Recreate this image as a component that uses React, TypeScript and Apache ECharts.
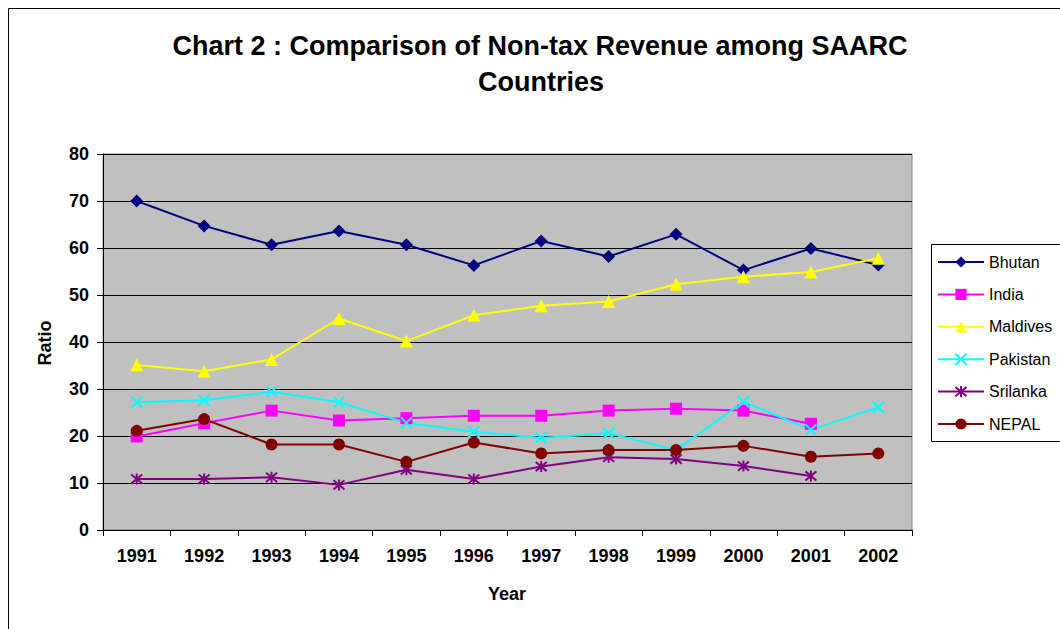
import React, { useEffect, useRef } from "react";
import * as echarts from "echarts";

const years = ["1991", "1992", "1993", "1994", "1995", "1996", "1997", "1998", "1999", "2000", "2001", "2002"];
const bhutan = [70.0, 64.7, 60.7, 63.6, 60.7, 56.3, 61.5, 58.2, 62.9, 55.3, 59.9, 56.4];
const india = [19.9, 22.7, 25.4, 23.3, 23.8, 24.3, 24.3, 25.4, 25.8, 25.4, 22.6, null];
const maldives = [35.1, 33.8, 36.3, 45.0, 40.2, 45.7, 47.7, 48.6, 52.3, 53.9, 54.9, 57.8];
const pakistan = [27.2, 27.6, 29.4, 27.2, 22.8, 20.9, 19.6, 20.6, 17.0, 27.3, 21.3, 26.1];
const srilanka = [10.85, 10.85, 11.2, 9.6, 12.8, 10.85, 13.5, 15.5, 15.1, 13.6, 11.5, null];
const nepal = [21.1, 23.6, 18.2, 18.2, 14.5, 18.6, 16.3, 17.0, 17.0, 17.9, 15.6, 16.3];

const titleLines = ["Chart 2 : Comparison of Non-tax Revenue among SAARC", "Countries"];

const FONT = "'Liberation Sans', Arial, sans-serif";

export default function App() {
  const ref = useRef<HTMLDivElement>(null);
  useEffect(() => {
    if (!ref.current) return;
    const chart = echarts.init(ref.current, undefined, { renderer: "svg" });
    const mk = (
      name: string,
      data: (number | null)[],
      color: string,
      symbol: string,
      size: number,
      stroke?: boolean
    ) => ({
      name,
      type: "line",
      data,
      symbol,
      symbolSize: size,
      showAllSymbol: true,
      lineStyle: { color, width: 2 },
      itemStyle: stroke
        ? { color: "rgba(0,0,0,0)", borderColor: color, borderWidth: 2 }
        : { color, borderColor: color, borderWidth: 0 },
      emphasis: { disabled: true },
    });
    const xPath = "path://M0,0L10,10M10,0L0,10";
    const starPath = "path://M0,0L10,10M10,0L0,10M5,-1L5,11";
    chart.setOption({
      animation: false,
      backgroundColor: "#ffffff",
      graphic: [
        {
          type: "polyline",
          shape: { points: [[1100, 8.5], [8.5, 8.5], [8.5, 700]] },
          style: { fill: "none", stroke: "#000", lineWidth: 1 },
          silent: true,
          z: -10,
        },
        {
          type: "polyline",
          shape: { points: [[1080, 244.5], [931.5, 244.5], [931.5, 441.5], [1080, 441.5]] },
          style: { fill: "#fff", stroke: "#000", lineWidth: 1 },
          silent: true,
          z: 1,
        },
        {
          type: "text",
          x: 540,
          y: 46,
          style: {
            text: titleLines[0],
            font: `bold 27px ${FONT}`,
            fill: "#000",
            textAlign: "center",
            textVerticalAlign: "middle",
          },
        },
        {
          type: "text",
          x: 541,
          y: 82,
          style: {
            text: titleLines[1],
            font: `bold 27px ${FONT}`,
            fill: "#000",
            textAlign: "center",
            textVerticalAlign: "middle",
          },
        },
        {
          type: "text",
          x: 45,
          y: 343,
          rotation: Math.PI / 2,
          style: {
            text: "Ratio",
            font: `bold 18px ${FONT}`,
            fill: "#000",
            textAlign: "center",
            textVerticalAlign: "middle",
          },
        },
        {
          type: "text",
          x: 507,
          y: 594,
          style: {
            text: "Year",
            font: `bold 18px ${FONT}`,
            fill: "#000",
            textAlign: "center",
            textVerticalAlign: "middle",
          },
        },
      ],
      grid: {
        left: 103,
        top: 154,
        width: 809,
        height: 376,
        show: true,
        backgroundColor: "#C0C0C0",
        borderColor: "#808080",
        borderWidth: 1,
      },
      legend: {
        orient: "vertical",
        left: 931,
        top: 245,
        padding: [8, 6, 8, 6],
        itemGap: 14.4,
        itemWidth: 46,
        itemHeight: 14,
        backgroundColor: "transparent",
        borderWidth: 0,
        z: 5,
        textStyle: { fontFamily: FONT, fontSize: 16, color: "#000", padding: [0, 0, 0, 0], lineHeight: 18 },
        data: ["Bhutan", "India", "Maldives", "Pakistan", "Srilanka", "NEPAL"],
      },
      xAxis: {
        type: "category",
        data: years,
        boundaryGap: true,
        axisLine: { lineStyle: { color: "#000", width: 1 } },
        axisTick: { show: true, length: 6, lineStyle: { color: "#000" } },
        axisLabel: { fontFamily: FONT, fontSize: 18, fontWeight: "bold", color: "#000", margin: 17 },
        splitLine: { show: false },
      },
      yAxis: {
        type: "value",
        min: 0,
        max: 80,
        interval: 10,
        axisLine: { show: true, lineStyle: { color: "#000", width: 1 } },
        axisTick: { show: true, length: 6, lineStyle: { color: "#000" } },
        axisLabel: { fontFamily: FONT, fontSize: 18, fontWeight: "bold", color: "#000", margin: 14 },
        splitLine: { show: true, lineStyle: { color: "#000", width: 1 } },
      },
      series: [
        mk("Bhutan", bhutan, "#000080", "diamond", 13),
        mk("India", india, "#FF00FF", "rect", 12),
        mk("Maldives", maldives, "#FFFF00", "triangle", 13),
        mk("Pakistan", pakistan, "#00FFFF", xPath, 11, true),
        mk("Srilanka", srilanka, "#800080", starPath, 11, true),
        mk("NEPAL", nepal, "#800000", "circle", 12),
      ],
    });
    return () => chart.dispose();
  }, []);
  return (
    <div
      ref={ref}
      style={{ position: "absolute", left: 0, top: 0, width: 1060, height: 629 }}
    />
  );
}
